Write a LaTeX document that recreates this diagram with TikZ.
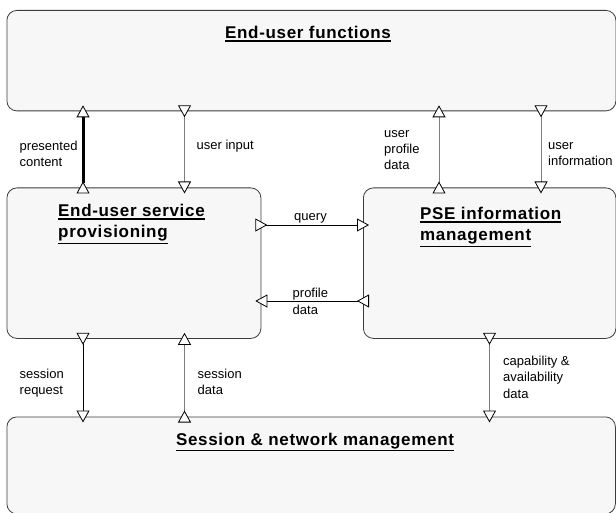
\documentclass[tikz,border=0pt]{standalone}
\usepackage{fontspec}
\setmainfont{Liberation Sans}
\newfontfamily\ttlfont{Liberation Sans}[LetterSpace=4]
\usetikzlibrary{arrows.meta}
\usetikzlibrary{calc}
\newcommand{\ttlul}[1]{\leavevmode\vtop{\hbox{#1}\kern1.2pt\hrule height 1.6pt}}
\definecolor{box-fill}{RGB}{247, 247, 247}
\definecolor{box-line}{RGB}{60, 60, 60}
\definecolor{flow-gray}{RGB}{125, 125, 125}
\tikzset{
  box/.style={draw=box-line, fill=box-fill, line width=0.8pt, rounded corners=10pt,
    anchor=north west, inner sep=0pt},
  ttl/.style={font=\ttlfont\bfseries\fontsize{17}{21}\selectfont, inner sep=0pt, align=left},
  lbl/.style={font=\fontsize{13}{16.4}\selectfont, inner sep=0pt, align=left, anchor=base west},
  tri/.tip={Triangle[length=12pt, width=13pt, fill=white, color=black, line width=0.8pt]},
  flow/.style={draw=flow-gray, line width=0.8pt, {tri[reversed]}-{tri},
    shorten <=-6pt, shorten >=-6pt},
}

\begin{document}
\begin{tikzpicture}[x=1pt, y=-1pt]
\useasboundingbox (0,0) rectangle (616,513);

% boxes
\node[box, minimum width=609pt, minimum height=100.5pt] (euf) at (6.5,10) {};
\node[box, minimum width=254pt, minimum height=150.5pt] (eusp) at (6.5,187.5) {};
\node[box, minimum width=252.5pt, minimum height=150.5pt] (pim) at (363,187.5) {};
\node[box, minimum width=608.5pt, minimum height=97pt] (snm) at (6.5,416.5) {};

% titles (base = last line)
\node[ttl, anchor=base] (euf-t) at (308,39) {\ttlul{End-user functions}};
\node[ttl, anchor=base west] (eusp-t) at (58,238) {\ttlul{End-user service}\\\ttlul{provisioning}};
\node[ttl, anchor=base west] (pim-t) at (420,241) {\ttlul{PSE information}\\\ttlul{management}};
\node[ttl, anchor=base] (snm-t) at (315,445) {\ttlul{Session \& network management}};

% where the flows meet the boxes
\coordinate (x-a) at (83,0);
\coordinate (x-b) at (184.5,0);
\coordinate (x-c) at (439,0);
\coordinate (x-d) at (541,0);
\coordinate (x-e) at (489.5,0);
\coordinate (y-q) at (0,225);
\coordinate (y-p) at (0,301);

\draw[flow, draw=black, line width=3pt] (eusp.north -| x-a) -- (euf.south -| x-a);
\draw[flow] (euf.south -| x-b) -- (eusp.north -| x-b);
\draw[flow] (pim.north -| x-c) -- (euf.south -| x-c);
\draw[flow] (euf.south -| x-d) -- (pim.north -| x-d);
\draw[flow, draw=black] (eusp.east |- y-q) -- (pim.west |- y-q);
\draw[flow, draw=black] (pim.west |- y-p) -- (eusp.east |- y-p);
\draw[flow, draw=black] (eusp.south -| x-a) -- (snm.north -| x-a);
\draw[flow] (snm.north -| x-b) -- (eusp.south -| x-b);
\draw[flow] (pim.south -| x-e) -- (snm.north -| x-e);

% labels (base = last line)
\node[lbl] (l-pc) at (19.5,166.5) {presented\\content};
\node[lbl] (l-ui) at (196.5,149.5) {user input};
\node[lbl] (l-upd) at (384,170) {user\\profile\\data};
\node[lbl] (l-uinf) at (548,166) {user\\information};
\node[lbl, anchor=base] (l-q) at (310.5,220.5) {query};
\node[lbl] (l-pd) at (292.5,314) {profile\\data};
\node[lbl] (l-sr) at (19.5,394.5) {session\\request};
\node[lbl] (l-sd) at (197.5,394.5) {session\\data};
\node[lbl] (l-cad) at (503,398) {capability \&\\availability\\data};
\end{tikzpicture}
\end{document}
